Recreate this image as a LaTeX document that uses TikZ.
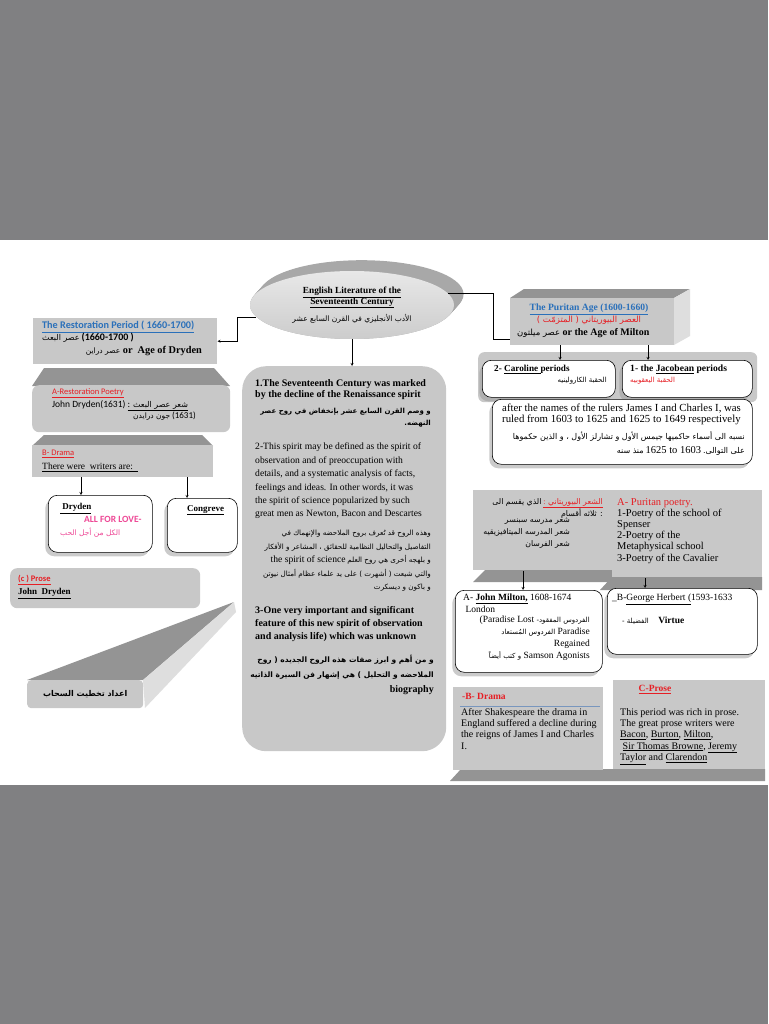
\documentclass[tikz,border=0pt]{standalone}
\usepackage{fontspec}
\setmainfont{Liberation Serif}
\newfontfamily\arabicfont[Script=Arabic]{DejaVu Sans}
\newfontfamily\calib{Carlito}
\TeXXeTstate=1
\usetikzlibrary{shapes.geometric,shadows}

\definecolor{pagegray}{RGB}{128,128,130}
\definecolor{facegray}{RGB}{200,200,200}
\definecolor{topgray}{RGB}{148,148,148}
\definecolor{sidegray}{RGB}{222,222,222}
\definecolor{titleblue}{RGB}{42,112,186}
\definecolor{titlered}{RGB}{230,30,36}
\definecolor{lovepink}{RGB}{238,72,150}
\definecolor{ruleblue}{RGB}{120,150,190}

\newcommand\artxt[1]{{\arabicfont\beginR#1\endR}}

\tikzset{
  face/.style={fill=facegray, inner sep=0pt, anchor=north west},
  topface/.style={fill=topgray},
  sideface/.style={fill=sidegray},
  card/.style={draw, line width=0.6pt, fill=white, rounded corners=9pt, inner sep=0pt,
    anchor=north west, drop shadow={shadow xshift=-3pt, shadow yshift=-4pt, fill=black!40}},
  entext/.style={anchor=north west, inner sep=0pt, align=left},
  artext/.style={anchor=north east, inner sep=0pt, align=right},
}

\begin{document}
\begin{tikzpicture}[x=1pt,y=-1pt,>=stealth,font=\fontsize{10}{11.5}\selectfont]
\useasboundingbox (0,0) rectangle (768,1024);
\fill[pagegray] (0,0) rectangle (768,1024);
\fill[white] (0,240) rectangle (768,785);

% heading ellipse, depth first
\foreach \k in {0,...,12}
  \fill[gray!68] ({352+0.8*\k},{305-0.9*\k}) ellipse [x radius=102, y radius=34];
\node[ellipse, minimum width=204, minimum height=68, top color=gray!18, bottom color=gray!40,
  align=center, font=\bfseries\fontsize{9.3}{10.8}\selectfont] (head) at (352,305)
  {\underline{English Literature of the}\\\underline{Seventeenth Century}\\[5pt]
   {\mdseries\fontsize{7.5}{9}\selectfont\artxt{الأدب الأنجليزي في القرن السابع عشر}}};

% left column
\node[face, minimum width=184, minimum height=46] (restor) at (33,318) {};
\fill[topface] (32,386) -- (44,368) -- (214,368) -- (230,386) -- cycle;
\node[face, rounded corners=7pt, minimum width=198, minimum height=47] (poetryA) at (32,385) {};
\fill[topface] (32,446) -- (44,435) -- (202,435) -- (213,446) -- cycle;
\node[face, minimum width=181, minimum height=32] (dramaL) at (32,445) {};

\node[entext, font=\calib\bfseries\fontsize{10.2}{11}\selectfont, text=titleblue] (restorT) at (42,321)
  {\underline{The Restoration Period ( 1660-1700)}};
\node[entext, font=\fontsize{8}{10}\selectfont] (restorA) at (42,333)
  {\artxt{عصر البعث} {\calib\bfseries\fontsize{10}{11}\selectfont (1660-1700 )}};
\node[artext, font=\fontsize{10.3}{11}\selectfont] (restorB) at (202,346)
  {\artxt{\fontsize{7.5}{9}\selectfont عصر دراين} \textbf{or\ \ Age of Dryden}};

\node[entext, font=\calib\fontsize{8.5}{10}\selectfont, text=titlered] (poetryT) at (52,388)
  {\underline{A-Restoration Poetry}};
\node[entext, font=\calib\fontsize{9.5}{10}\selectfont] (poetryB) at (52,400)
  {John Dryden(1631) \underline{: \artxt{\fontsize{8}{9}\selectfont شعر عصر البعث}}};
\node[artext, font=\fontsize{7.5}{9}\selectfont] (poetryC) at (196,412)
  {\artxt{جون درايدن} {\calib\fontsize{9}{10}\selectfont (1631)}};

\node[entext, font=\calib\fontsize{8.5}{10}\selectfont, text=titlered] (dramaT) at (42,450)
  {\underline{B- Drama}};
\node[entext, font=\fontsize{9.5}{10}\selectfont] (dramaB) at (42,463)
  {\underline{There were\ \ writers are:\ \ }};

\node[card, minimum width=104, minimum height=57] (dryden) at (48,495) {};
\node[card, minimum width=70, minimum height=54] (congreve) at (167,498) {};
\node[entext, font=\bfseries\fontsize{9}{10}\selectfont] (drydenT) at (60,503) {\underline{\ Dryden}};
\node[entext, font=\calib\bfseries\fontsize{9.5}{10}\selectfont, text=lovepink] (loveT) at (84,516) {ALL FOR LOVE-};
\node[entext, font=\fontsize{7.5}{9}\selectfont, text=lovepink] (loveA) at (60,528) {\artxt{الكل من أجل الحب}};
\node[entext, font=\bfseries\fontsize{9}{10}\selectfont] (congreveT) at (187,505) {\underline{Congreve}};

\draw[->] (81,477) -- (81,495);
\draw[->] (187,477) -- (187,498);

% credit slab under the prose box
\fill[topface] (27,680) -- (143,680) -- (234,602) -- cycle;
\fill[sideface] (143,680) -- (234,602) -- (236,612) -- (145,708) -- cycle;
\node[face, rounded corners=4pt, minimum width=116, minimum height=28] (credit) at (27,680)
  {\bfseries\fontsize{8}{10}\selectfont\artxt{اعداد تخطيت السحاب}};

\node[face, rounded corners=7pt, minimum width=190, minimum height=40] (proseL) at (10,568) {};
\node[entext, font=\calib\bfseries\fontsize{8.5}{10}\selectfont, text=titlered] (proseT) at (18,575) {\underline{(c ) Prose}};
\node[entext, font=\bfseries\fontsize{9}{10}\selectfont] (proseB) at (18,588) {\underline{John\ \ Dryden}};

% central column
\node[face, rounded corners=24pt, minimum width=204, minimum height=385] (core) at (242,366) {};
\node[entext, font=\bfseries\fontsize{10}{11.5}\selectfont] (core1) at (255,379)
  {1.The Seventeenth Century was marked\\by the decline of the Renaissance spirit};
\node[artext, font=\bfseries\fontsize{7}{12}\selectfont] (core1a) at (431,408)
  {\artxt{و وَصم القرن السابع عشر بإنخفاض في روح عصر}\\\artxt{النهضه.}};
\node[entext, font=\fontsize{9.6}{13.4}\selectfont] (core2) at (255,443)
  {2-This spirit may be defined as the spirit of\\observation and of preoccupation with\\
   details, and a systematic analysis of facts,\\feelings and ideas. In other words, it was\\
   the spirit of science popularized by such\\great men as Newton, Bacon and Descartes};
\node[artext, font=\fontsize{7.2}{13.4}\selectfont] (core2a) at (431,530)
  {\artxt{وهذه الروح قد تُعرف بروح الملاحضه والإنهماك في}\\
   \artxt{التفاصيل والتحاليل النظامية للحقائق ، المشاعر و الأفكار}\\
   {\fontsize{9.6}{11}\selectfont the spirit of science} \artxt{و بلهجه أخرى هي روح العلم}\\
   \artxt{والتي شيعت ( أشهرت ) على يد علماء عظام أمثال نيوتن}\\
   \artxt{و باكون و ديسكرت}};
\node[entext, font=\bfseries\fontsize{10}{13}\selectfont] (core3) at (255,606)
  {3-One very important and significant\\feature of this new spirit of observation\\
   and analysis life) which was unknown};
\node[artext, font=\bfseries\fontsize{7.5}{15}\selectfont] (core3a) at (434,655)
  {\artxt{و من أهم و ابرز صفات هذه الروح الجديده ( روح}\\
   \artxt{الملاحضه و التحليل ) هي إشهار فن السيرة الذاتيه}\\
   {\fontsize{10}{11}\selectfont biography}};

% puritan age
\fill[topface] (510,298) -- (524,289) -- (690,289) -- (674,298) -- cycle;
\fill[sideface] (674,298) -- (690,289) -- (690,336) -- (674,345) -- cycle;
\node[face, minimum width=164, minimum height=47] (puritan) at (510,298) {};
\node[entext, anchor=north, font=\bfseries\fontsize{9.6}{10}\selectfont, text=titleblue] (puritanT) at (589,304)
  {\underline{The Puritan Age (1600-1660)}};
\node[entext, anchor=north, font=\fontsize{8.5}{9}\selectfont, text=titlered] (puritanA) at (589,316)
  {\artxt{العصر البيوريتاني ( المتزمّت )}};
\node[entext, font=\bfseries\fontsize{10}{10}\selectfont] (puritanB) at (517,328)
  {{\mdseries\fontsize{8.5}{9}\selectfont\artxt{عصر ميلتون}} or the Age of Milton};

\node[face, rounded corners=6pt, minimum width=279, minimum height=50] (periodsbg) at (478,352) {};
\node[card, minimum width=133, minimum height=37] (caroline) at (482,360) {};
\node[card, minimum width=130, minimum height=37] (jacobean) at (622,360) {};
\node[entext, font=\bfseries\fontsize{9.2}{10}\selectfont] (carolineT) at (494,365) {2- \underline{Caroline }periods};
\node[artext, font=\fontsize{7}{9}\selectfont] (carolineA) at (607,377) {\artxt{الحقبة الكارولينيه}};
\node[entext, font=\bfseries\fontsize{9.6}{10}\selectfont] (jacobeanT) at (630,365) {1- the \underline{Jacobean} periods};
\node[entext, font=\fontsize{7}{9}\selectfont, text=titlered] (jacobeanA) at (630,377) {\artxt{الحقبة اليعقوبيه}};

\node[card, minimum width=260, minimum height=65] (namesbox) at (492,399) {};
\node[entext, font=\fontsize{10.8}{10.8}\selectfont] (namesT) at (502,404)
  {after the names of the rulers James I and Charles I, was\\ruled from 1603 to 1625 and 1625 to 1649 respectively};
\node[artext, font=\fontsize{8}{14.5}\selectfont] (namesA) at (745,431)
  {\artxt{نسبه الى أسماء حاكميها جيمس الأول و تشارلز الأول ، و الذين حكموها}\\
   \artxt{منذ سنه} {\fontsize{10.5}{11}\selectfont 1625 to 1603} \artxt{على التوالى.}};

% puritan poetry
\fill[topface] (473,582) -- (485,570) -- (612,570) -- (612,582) -- cycle;
\fill[topface] (600,590) -- (612,577) -- (762,577) -- (762,590) -- cycle;
\node[face, minimum width=139, minimum height=80] (arpoetry) at (473,490) {};
\node[face, minimum width=150, minimum height=87] (purpoetry) at (612,490) {};
\node[artext, font=\fontsize{7.8}{10.5}\selectfont] (arpoetryA) at (603,498)
  {\artxt{الذي يقسم الى} {\color{titlered}\underline{: \artxt{الشعر البيوريتاني}}}\\\artxt{: ثلاثه أقسام}};
\node[artext, font=\fontsize{7.8}{12}\selectfont] (arpoetryB) at (570,518)
  {\artxt{شعر مدرسه سبنسر}\\\artxt{شعر المدرسه الميتافيزيقيه}\\\artxt{شعر الفرسان}};
\node[entext, font=\fontsize{10.5}{11.2}\selectfont] (purpoetryT) at (617,498)
  {{\color{titlered}A- Puritan poetry.}\\1-Poetry of the school of\\Spenser\\2-Poetry of the\\Metaphysical school\\3-Poetry of the Cavalier};

\node[card, minimum width=147, minimum height=82] (milton) at (455,590) {};
\node[card, minimum width=150, minimum height=66] (herbert) at (607,588) {};
\node[entext, font=\fontsize{9.5}{12}\selectfont] (miltonT) at (463,594)
  {A- \underline{\textbf{John Milton,}} 1608-1674\\\ London};
\node[artext, font=\fontsize{9.5}{12}\selectfont] (miltonA) at (590,616)
  {{(Paradise Lost} \artxt{\fontsize{7}{9}\selectfont الفردوس المفقود-}\\
   \artxt{\fontsize{7}{9}\selectfont الفردوس المُستعاد} Paradise\\Regained\\
   \artxt{\fontsize{7}{9}\selectfont و كتب أيضاً} Samson Agonists};
\node[entext, font=\fontsize{9.5}{12}\selectfont] (herbertT) at (612,594)
  {\_B-\underline{George Herbert (}1593-1633};
\node[entext, font=\fontsize{9.5}{12}\selectfont] (herbertB) at (622,617)
  {\artxt{\fontsize{7}{9}\selectfont الفضيلة -}\quad\textbf{Virtue}};

\draw[->] (523,571) -- (523,590);
\draw[->] (645,578) -- (645,588);

% drama and prose of the puritan age
\fill[topface] (450,781) -- (461,769) -- (765,769) -- (765,781) -- cycle;
\node[face, minimum width=150, minimum height=83] (dramaP) at (453,687) {};
\node[face, minimum width=152, minimum height=89] (proseP) at (613,680) {};
\node[entext, font=\bfseries\fontsize{9.5}{11}\selectfont, text=titlered] (dramaPT) at (462,693) {-B- Drama};
\draw[ruleblue, line width=0.8pt] (460,706) -- (600,706);
\node[entext, font=\fontsize{10}{11.3}\selectfont] (dramaPB) at (461,708)
  {After Shakespeare the drama in\\England suffered a decline during\\the reigns of James I and Charles\\I.};
\node[entext, anchor=north, font=\bfseries\fontsize{9.5}{11}\selectfont, text=titlered] (prosePT) at (655,685) {\underline{C-Prose}};
\node[entext, font=\fontsize{10}{11.3}\selectfont] (prosePB) at (620,708)
  {This period was rich in prose.\\The great prose writers were\\
   \underline{Bacon}, \underline{Burton}, \underline{Milton},\\
   \ \underline{Sir Thomas Browne}, \underline{Jeremy}\\\underline{Taylor} and \underline{Clarendon}};

% connectors from the heading
\draw[->] (head.187) -- ++(-19,0) |- (restor.east);
\draw (head.7) -- ++(45,0) |- ([yshift=6pt]puritan.south west);
\draw[->] (head.south) -- (head.south |- core.north);
\draw[->] (560,345) -- (560,360);
\draw[->] (648,345) -- (648,360);
\end{tikzpicture}
\end{document}
